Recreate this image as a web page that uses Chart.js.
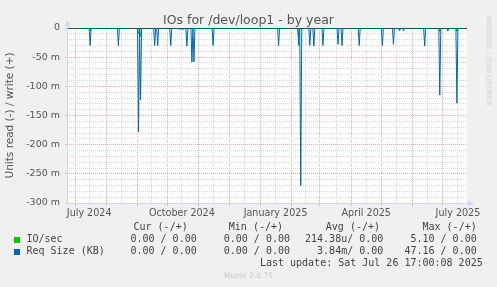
<!DOCTYPE html>
<html>
<head>
<meta charset="utf-8">
<script src="https://cdn.jsdelivr.net/npm/chart.js@4.4.1/dist/chart.umd.min.js"></script>
<style>
html,body{margin:0;padding:0;background:#f0f0f0;}
#wrap{position:relative;width:497px;height:287px;overflow:hidden;background:#f0f0f0;}
#c{position:absolute;left:0;top:0;}
#title{position:absolute;left:0;width:497px;top:11.5px;text-align:center;font-family:'DejaVu Sans',sans-serif;font-size:12.5px;line-height:15px;color:#555;white-space:nowrap;}
.t{position:absolute;font-family:'DejaVu Sans Mono',monospace;font-size:10px;line-height:12px;color:#444;white-space:pre;}
.r{text-align:right;}
.sq{position:absolute;width:6px;height:6px;}
#munin{position:absolute;left:0;width:497px;top:271px;text-align:center;font-family:'DejaVu Sans',sans-serif;font-size:7.5px;line-height:9px;color:#c8c8c8;}
#rrd{position:absolute;left:440px;top:56px;width:96px;height:9px;line-height:9px;transform:rotate(90deg);transform-origin:center center;text-align:center;font-family:'DejaVu Sans',sans-serif;font-size:7px;color:#d0d0d0;white-space:nowrap;}
</style>
</head>
<body>
<div id="wrap">
<canvas id="c" width="497" height="287"></canvas>
<div id="title">IOs for /dev/loop1 - by year</div>
<div id="rrd">RRDTOOL / TOBI OETIKER</div>
<div id="legend"></div>
<div id="munin">Munin 2.0.75</div>
</div>
<script>
// ---- data (x = days since 23 Jun 2024, y = units, read side negative) ----
const xMaxDay = 397;
const monthStartDays = [8, 39, 70, 100, 131, 161, 192, 223, 251, 282, 312, 343, 373];
const midMonthDays   = [22, 54, 84, 114, 145, 176, 207, 237, 267, 297, 327, 358, 388];
const xLabelDays     = [22, 114, 207, 297, 388];
const xLabelTexts    = ['July 2024', 'October 2024', 'January 2025', 'April 2025', 'July 2025'];

const yMajorTicks = [0, -0.05, -0.10, -0.15, -0.20, -0.25, -0.30];

const reqSizeDays   = [23, 51, 71, 73, 87, 90, 103, 112, 115, 119, 124, 126, 145, 210, 230, 232, 241, 245, 254, 269, 273, 290, 313, 324, 330, 334, 355, 370, 378, 387];
const reqSizeValues = [-0.030, -0.030, -0.178, -0.123, -0.030, -0.030, -0.030, -0.003, -0.003, -0.031, -0.058, -0.058, -0.030, -0.030, -0.030, -0.270, -0.030, -0.031, -0.030, -0.028, -0.030, -0.030, -0.030, -0.028, -0.005, -0.005, -0.031, -0.115, -0.005, -0.129];

const ioDays   = [23, 71, 73, 230, 370, 387];
const ioValues = [-0.005, -0.010, -0.015, -0.014, -0.006, -0.006];

const seriesNames  = ['IO/sec', 'Req Size (KB)'];
const seriesColors = ['#00cc00', '#0066b3'];
const legendHeaders = ['Cur (-/+)', 'Min (-/+)', 'Avg (-/+)', 'Max (-/+)'];
const legendCur = ['0.00 / 0.00', '0.00 / 0.00'];
const legendMin = ['0.00 / 0.00', '0.00 / 0.00'];
const legendAvg = ['214.38u/ 0.00', '3.84m/ 0.00'];
const legendMax = ['5.10 / 0.00', '47.16 / 0.00'];
const lastUpdate = 'Last update: Sat Jul 26 17:00:08 2025';

// ---- build daily series (0 on days without activity) ----
function dailySeries(days, values) {
  const pts = [];
  for (let d = 0; d <= xMaxDay; d++) {
    const i = days.indexOf(d);
    pts.push({x: d, y: i >= 0 ? values[i] : 0});
  }
  return pts;
}

// ---- legend (HTML text) ----
(function buildLegend() {
  const L = document.getElementById('legend');
  const W = 497;
  const headRight = [187.7, 283, 380, 476.7];
  const colRight = [196.7, 290, 383.3, 476.7];
  let h = '';
  legendHeaders.forEach((t, i) => {
    h += `<div class="t r" style="right:${W - headRight[i]}px;top:220.5px">${t}</div>`;
  });
  const cols = [legendCur, legendMin, legendAvg, legendMax];
  seriesNames.forEach((n, r) => {
    const top = 233 + r * 12.4;
    h += `<div class="sq" style="left:14px;top:${top + 3.5}px;background:${seriesColors[r]}"></div>`;
    h += `<div class="t" style="left:26.5px;top:${top}px">${n}</div>`;
    cols.forEach((c, i) => {
      h += `<div class="t r" style="right:${W - colRight[i]}px;top:${top}px">${c[r]}</div>`;
    });
  });
  h += `<div class="t r" style="right:${W - 482.7}px;top:257.2px">${lastUpdate}</div>`;
  L.innerHTML = h;
})();

// ---- chart ----
const MGRID = '#e8b0b0';
const GRID = '#d8d8d8';
const AXIS = '#cfd6f8';

const decor = {
  id: 'decor',
  beforeDraw(chart) {
    const {ctx, chartArea: a} = chart;
    ctx.save();
    ctx.fillStyle = '#ffffff';
    ctx.fillRect(a.left, a.top, a.right - a.left, a.bottom - a.top);
    ctx.restore();
  },
  beforeDatasetsDraw(chart) {
    const {ctx, chartArea: a, scales} = chart;
    const y0 = Math.round(scales.y.getPixelForValue(0)) + 0.5;
    ctx.save();
    ctx.strokeStyle = '#000000';
    ctx.lineWidth = 1;
    ctx.beginPath();
    ctx.moveTo(a.left, y0);
    ctx.lineTo(a.right, y0);
    ctx.stroke();
    ctx.restore();
  },
  afterDraw(chart) {
    const {ctx, chartArea: a} = chart;
    const xl = Math.round(a.left) + 0.5;
    const yb = Math.round(a.bottom) + 0.5;
    ctx.save();
    ctx.strokeStyle = AXIS;
    ctx.fillStyle = AXIS;
    ctx.lineWidth = 1;
    ctx.beginPath();
    ctx.moveTo(xl, yb + 1);
    ctx.lineTo(xl, a.top - 4);
    ctx.moveTo(a.left - 1, yb);
    ctx.lineTo(a.right + 4, yb);
    ctx.stroke();
    ctx.beginPath();
    ctx.moveTo(xl - 3, a.top - 2);
    ctx.lineTo(xl + 3, a.top - 2);
    ctx.lineTo(xl, a.top - 8);
    ctx.closePath();
    ctx.fill();
    ctx.beginPath();
    ctx.moveTo(a.right + 1, yb - 3);
    ctx.lineTo(a.right + 1, yb + 3);
    ctx.lineTo(a.right + 7, yb);
    ctx.closePath();
    ctx.fill();
    ctx.restore();
  }
};

const isMajorY = v => Math.abs(Math.round(v * 1000)) % 50 === 0;

new Chart(document.getElementById('c'), {
  type: 'line',
  data: {
    datasets: [
      {
        label: seriesNames[1],
        data: dailySeries(reqSizeDays, reqSizeValues),
        borderColor: seriesColors[1],
        borderWidth: 1,
        pointRadius: 0,
        tension: 0,
        fill: false,
        order: 1
      },
      {
        label: seriesNames[0],
        data: dailySeries(ioDays, ioValues),
        borderColor: seriesColors[0],
        borderWidth: 1,
        pointRadius: 0,
        tension: 0,
        fill: false,
        order: 2
      }
    ]
  },
  options: {
    responsive: false,
    animation: false,
    devicePixelRatio: 1,
    layout: {padding: {top: 28, right: 30, left: 0, bottom: 0}},
    font: {family: 'DejaVu Sans'},
    plugins: {
      legend: {display: false},
      tooltip: {enabled: false},
      title: {display: false}
    },
    scales: {
      x: {
        type: 'linear',
        min: 0,
        max: xMaxDay,
        afterBuildTicks(scale) {
          const all = monthStartDays.concat(midMonthDays).sort((a, b) => a - b);
          scale.ticks = all.map(v => ({value: v}));
        },
        afterFit(scale) { scale.height = 84; },
        border: {display: false, dash: [1, 1]},
        grid: {
          color: c => monthStartDays.includes(c.tick.value) ? MGRID : GRID,
          tickColor: c => monthStartDays.includes(c.tick.value) ? MGRID : 'rgba(0,0,0,0)',
          tickLength: 3,
          lineWidth: 1
        },
        ticks: {
          autoSkip: false,
          maxRotation: 0,
          minRotation: 0,
          padding: 2,
          color: '#555555',
          font: {family: 'DejaVu Sans', size: 9.6},
          callback: v => {
            const i = xLabelDays.indexOf(v);
            return i >= 0 ? xLabelTexts[i] : '';
          }
        }
      },
      y: {
        type: 'linear',
        min: -0.30,
        max: 0,
        afterBuildTicks(scale) {
          const t = [];
          for (let k = 0; k < yMajorTicks.length - 1; k++) {
            for (let m = 0; m < 5; m++) t.push(Math.round((yMajorTicks[k] - m * 0.01) * 1000) / 1000);
          }
          t.push(yMajorTicks[yMajorTicks.length - 1]);
          scale.ticks = t.map(v => ({value: v}));
        },
        afterFit(scale) { scale.width = 67; },
        border: {display: false, dash: [1, 1]},
        title: {
          display: true,
          text: 'Units read (-) / write (+)',
          color: '#555555',
          font: {family: 'DejaVu Sans', size: 10.5},
          padding: {top: 4, bottom: 0}
        },
        grid: {
          color: c => c.tick.value === 0 ? 'rgba(0,0,0,0)' : (isMajorY(c.tick.value) ? MGRID : GRID),
          tickColor: c => isMajorY(c.tick.value) ? MGRID : 'rgba(0,0,0,0)',
          tickLength: 2,
          lineWidth: 1
        },
        ticks: {
          autoSkip: false,
          padding: 5,
          color: '#555555',
          font: {family: 'DejaVu Sans', size: 9.5},
          callback: v => {
            if (!isMajorY(v)) return '';
            const m = Math.round(v * 1000);
            return m === 0 ? '0' : m + ' m';
          }
        }
      }
    }
  },
  plugins: [decor]
});
</script>
</body>
</html>
